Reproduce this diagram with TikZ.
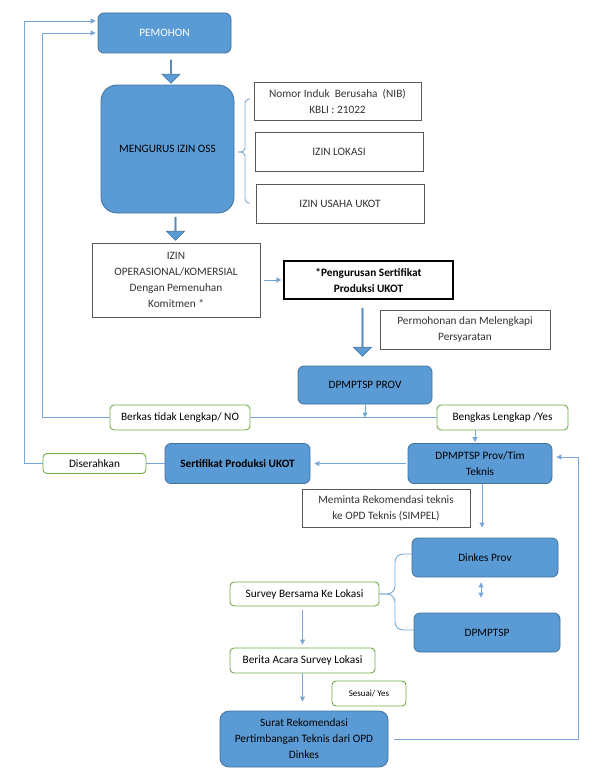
\documentclass[tikz,border=0pt]{standalone}
\usepackage{fontspec}
\setmainfont{Carlito}
\usepackage{xcolor}
\usepackage{tikz}
\usetikzlibrary{positioning}
\usetikzlibrary{shapes.arrows,arrows.meta,calc}
\definecolor{boxblue}{RGB}{91,155,213}
\definecolor{boxedge}{RGB}{65,113,156}
\definecolor{lineblue}{RGB}{120,166,216}
\definecolor{labgreen}{RGB}{112,173,71}
\tikzstyle{proc}=[rectangle,rounded corners=6pt,fill=boxblue,draw=boxedge,line width=0.8pt,align=center,inner sep=2pt]
\tikzset{doc/.style={rectangle,draw=black!65,line width=1pt,fill=white,align=center,text=black!80,inner sep=2pt}}
\tikzset{lab/.style={rectangle,rounded corners=4pt,draw=labgreen,line width=0.9pt,fill=white,align=center,inner sep=2pt}}
\tikzset{bigarrow/.style={single arrow,rotate=-90,fill=boxblue,draw=boxedge,line width=0.6pt,minimum width=18pt,single arrow head extend=4.5pt,inner sep=0pt}}
\tikzset{flow/.style={draw=lineblue,line width=0.9pt}}
\tikzset{flowarrow/.style={-{Triangle[length=5pt,width=5pt]}}}

\begin{document}
\begin{tikzpicture}[x=1pt,y=-1pt,font=\fontsize{11.3}{16}\selectfont]
    \useasboundingbox (0,0) rectangle (598,784);

    % top part
    \node[proc,text=white,minimum width=133pt,minimum height=40pt] (pemohon) at (164.5,33) {PEMOHON};
    \node[proc,rounded corners=16pt,minimum width=133pt,minimum height=128pt] (oss) at (167.5,149) {MENGURUS IZIN OSS};

    \node[doc,minimum width=167pt,minimum height=38pt] (nib) at (337.5,101) {Nomor Induk~ Berusaha~ (NIB)\\KBLI : 21022};
    \node[doc,minimum width=168pt,minimum height=39pt] (lokasi) at (339,151.5) {IZIN LOKASI};
    \node[doc,minimum width=168pt,minimum height=39pt] (ukot) at (340,203.5) {IZIN USAHA UKOT};

    \draw[flow,rounded corners=4pt] (250,99) -- (245,99) -- (245,152) -- (238,152);
    \draw[flow,rounded corners=4pt] (238,152) -- (245,152) -- (245,203) -- (250,203);

    \node[doc,minimum width=168pt,minimum height=74pt] (opskom) at (176,280) {IZIN\\OPERASIONAL/KOMERSIAL\\Dengan Pemenuhan\\Komitmen *};
    \node[doc,draw=black,line width=1.3pt,text=black,font=\fontsize{11.3}{16}\selectfont\bfseries,minimum width=169pt,minimum height=38pt] (sert1) at (368.5,280) {*Pengurusan Sertifikat\\Produksi UKOT};
    \node[doc,minimum width=170pt,minimum height=39pt] (syarat) at (465,329.5) {Permohonan dan Melengkapi\\Persyaratan};

    \foreach \pos/\len/\name in {(171,71.5)/23/ar1, (175.5,228.5)/23/ar2, (362.5,332)/48/ar3}
        \node[bigarrow,minimum height=\len pt] (\name) at \pos {};

    \draw[flow,flowarrow,shorten <=3pt,shorten >=2pt] (opskom.east) -- (sert1.west);

    % DPMPTSP
    \node[proc,minimum width=134pt,minimum height=38pt] (prov) at (365,385) {DPMPTSP PROV};
    \node[lab,minimum width=140pt,minimum height=25pt] (berkas) at (180,417.5) {Berkas tidak Lengkap/ NO};
    \node[lab,minimum width=131pt,minimum height=25pt] (bengkas) at (502.5,417.5) {Bengkas Lengkap /Yes};

    \draw[flow] (berkas.east) -- (bengkas.west);
    \draw[flow,flowarrow] (prov.south) -- (prov.south |- berkas.east);

    \node[proc,minimum width=144pt,minimum height=40pt] (timteknis) at (480,463.5) {DPMPTSP Prov/Tim\\Teknis};
    \node[proc,font=\fontsize{11.3}{16}\selectfont\bfseries,minimum width=145pt,minimum height=40pt] (sertifikat) at (237.5,463.5) {Sertifikat Produksi UKOT};
    \node[lab,minimum width=103pt,minimum height=20pt] (diserahkan) at (94.5,463.5) {Diserahkan};

    \coordinate (tin) at ($(timteknis.north)+(-5,0)$);
    \draw[flow,flowarrow,shorten >=1pt] (tin |- bengkas.south) -- (tin);
    \draw[flow,flowarrow,shorten <=2pt,shorten >=4pt] (timteknis.west) -- (sertifikat.east);
    \draw[flow] (sertifikat.west) -- (diserahkan.east);

    % back to PEMOHON
    \coordinate (lback1) at (42,33);
    \coordinate (lback2) at (24,21);
    \draw[flow,flowarrow,shorten >=2pt] (berkas.west) -| (lback1) -- (lback1 -| pemohon.west);
    \draw[flow,flowarrow,shorten >=2pt] (diserahkan.west) -| (lback2) -- (lback2 -| pemohon.west);

    % OPD teknis
    \node[doc,minimum width=168pt,minimum height=38pt] (minta) at (386,508) {Meminta Rekomendasi teknis\\ke OPD Teknis (SIMPEL)};
    \node[proc,minimum width=146pt,minimum height=39pt] (dinkes) at (485,557.5) {Dinkes Prov};
    \node[proc,minimum width=146pt,minimum height=39pt] (dpmptsp) at (487,632.5) {DPMPTSP};

    \coordinate (tout) at ($(timteknis.south)+(2,0)$);
    \coordinate (dout) at ($(dinkes.south)+(-4,0)$);
    \draw[flow,flowarrow,shorten >=10pt] (tout) -- (tout |- dinkes.north);
    \draw[flow,{Triangle[length=5pt,width=5pt]}-{Triangle[length=5pt,width=5pt]},shorten <=5pt,shorten >=15pt] (dout) -- (dout |- dpmptsp.north);

    \node[lab,minimum width=149pt,minimum height=24pt] (survey) at (304.5,594) {Survey Bersama Ke Lokasi};
    \node[lab,minimum width=145pt,minimum height=25pt] (berita) at (302.5,660.5) {Berita Acara Survey Lokasi};
    \node[lab,font=\fontsize{9}{11}\selectfont,minimum width=74pt,minimum height=25pt] (sesuai) at (369,693.5) {Sesuai/ Yes};
    \node[proc,rounded corners=9pt,minimum width=168pt,minimum height=56pt] (surat) at (304,739) {Surat Rekomendasi\\Pertimbangan Teknis dari OPD\\Dinkes};

    \draw[flow,rounded corners=8pt] (survey.east) -- (395,594) -- (395,554) -- ($(dinkes.west)+(0,-3.5)$);
    \draw[flow,rounded corners=8pt] (survey.east) -- (395,594) -- (395,630) -- ($(dpmptsp.west)+(0,-2.5)$);

    \draw[flow,flowarrow,shorten <=4pt,shorten >=3pt] (berita.north |- survey.south) -- (berita.north);
    \draw[flow,flowarrow,shorten >=9pt] (berita.south) -- (berita.south |- surat.north);

    % back to DPMPTSP Prov/Tim
    \coordinate (rback) at (578,457);
    \draw[flow,flowarrow,shorten <=6pt,shorten >=4pt] (surat.east) -| (rback) -- (rback -| timteknis.east);

\end{tikzpicture}
\end{document}
